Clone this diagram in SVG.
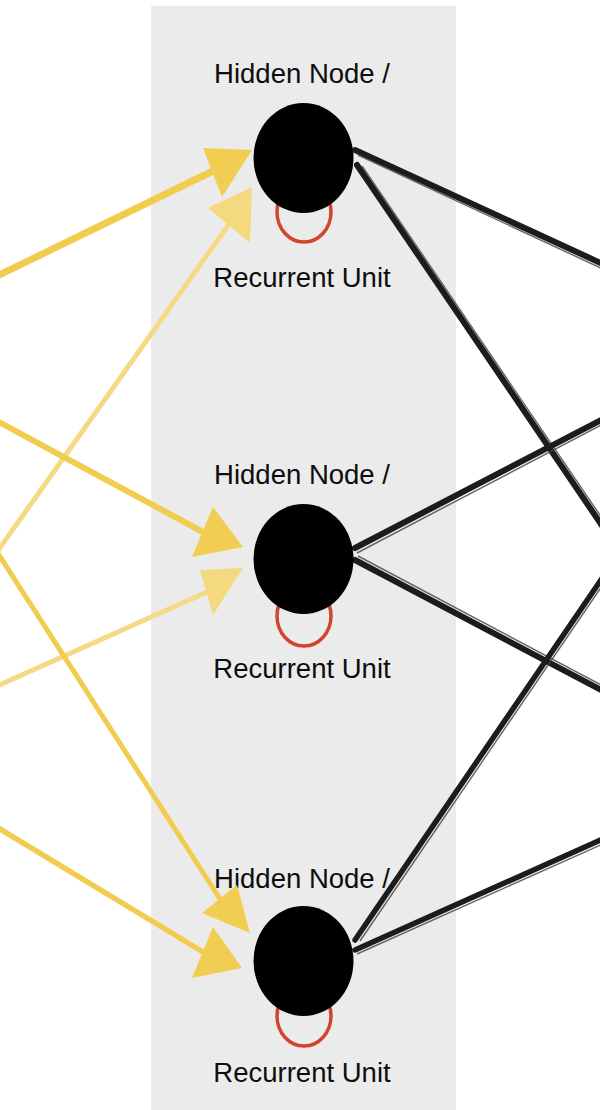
<svg xmlns="http://www.w3.org/2000/svg" width="600" height="1110" viewBox="0 0 600 1110">
<style>
.lbl{font-family:"Liberation Sans",Arial,sans-serif;font-size:27.5px;fill:#0d0d0d;text-anchor:middle}
.node{fill:#000}
.loop{fill:none;stroke:#d2452b;stroke-width:3.5}
.y1{stroke:#f1cc4f;fill:none;stroke-linecap:round}
.y2{stroke:#f4da85;fill:none;stroke-linecap:round}
.h1{fill:#f1cd52}
.h2{fill:#f4d97f}
.k{stroke:#1c1c1c;fill:none;stroke-linecap:round}
.ks{stroke:#444;fill:none;stroke-width:1.5;opacity:0.8}
</style>
<rect x="0" y="0" width="600" height="1110" fill="#ffffff"/>
<rect x="151" y="6" width="305" height="1104" fill="#ebebeb"/>

<g id="labels">
<text class="lbl" x="302" y="83">Hidden Node /</text>
<text class="lbl" x="302" y="287">Recurrent Unit</text>
<text class="lbl" x="302" y="484">Hidden Node /</text>
<text class="lbl" x="302" y="678">Recurrent Unit</text>
<text class="lbl" x="302" y="888">Hidden Node /</text>
<text class="lbl" x="302" y="1082">Recurrent Unit</text>
</g>

<g id="connectors">
<!-- yellow input arrows -->
<line class="y1" x1="-5" y1="277" x2="213" y2="171" stroke-width="7"/>
<polygon class="h1" points="203,148 252,150 222,197"/>
<line class="y2" x1="-3" y1="552" x2="229" y2="224" stroke-width="5"/>
<polygon class="h2" points="208,208 252,187 250,243"/>

<line class="y1" x1="-5" y1="420" x2="203" y2="532" stroke-width="6"/>
<polygon class="h1" points="192,557 213,507 243,547"/>
<line class="y2" x1="-5" y1="687" x2="207" y2="592" stroke-width="5"/>
<polygon class="h2" points="200,570 243,568 213,615"/>

<line class="y1" x1="-3" y1="552" x2="220" y2="899" stroke-width="5"/>
<polygon class="h1" points="202,913 237,885 250,933"/>
<line class="y1" x1="-5" y1="826" x2="203" y2="952" stroke-width="5.5"/>
<polygon class="h1" points="192,978 213,927 242,968"/>

<!-- black output lines -->
<line class="k" x1="355" y1="150" x2="605" y2="265" stroke-width="6"/>
<line class="ks" x1="358" y1="155" x2="605" y2="270"/>
<line class="k" x1="357" y1="165" x2="603" y2="527" stroke-width="6"/>
<line class="ks" x1="362" y1="166" x2="606" y2="524"/>
<line class="k" x1="355" y1="548" x2="605" y2="418" stroke-width="6"/>
<line class="ks" x1="357" y1="553" x2="605" y2="423"/>
<line class="k" x1="355" y1="560" x2="605" y2="692" stroke-width="6"/>
<line class="ks" x1="358" y1="556" x2="605" y2="687"/>
<line class="k" x1="355" y1="940" x2="603" y2="577" stroke-width="5.5"/>
<line class="ks" x1="360" y1="941" x2="606" y2="580"/>
<line class="k" x1="355" y1="950" x2="605" y2="838" stroke-width="5.5"/>
<line class="ks" x1="357" y1="954" x2="605" y2="843"/>
</g>

<g id="node1">
<ellipse class="loop" cx="304" cy="212" rx="27" ry="30"/>
<ellipse class="node" cx="303.5" cy="158" rx="50" ry="55"/>
</g>
<g id="node2">
<ellipse class="loop" cx="304" cy="616" rx="27" ry="30"/>
<ellipse class="node" cx="303.5" cy="559" rx="50" ry="55"/>
</g>
<g id="node3">
<ellipse class="loop" cx="304" cy="1016" rx="27" ry="30"/>
<ellipse class="node" cx="303.5" cy="961" rx="50" ry="55"/>
</g>
</svg>
